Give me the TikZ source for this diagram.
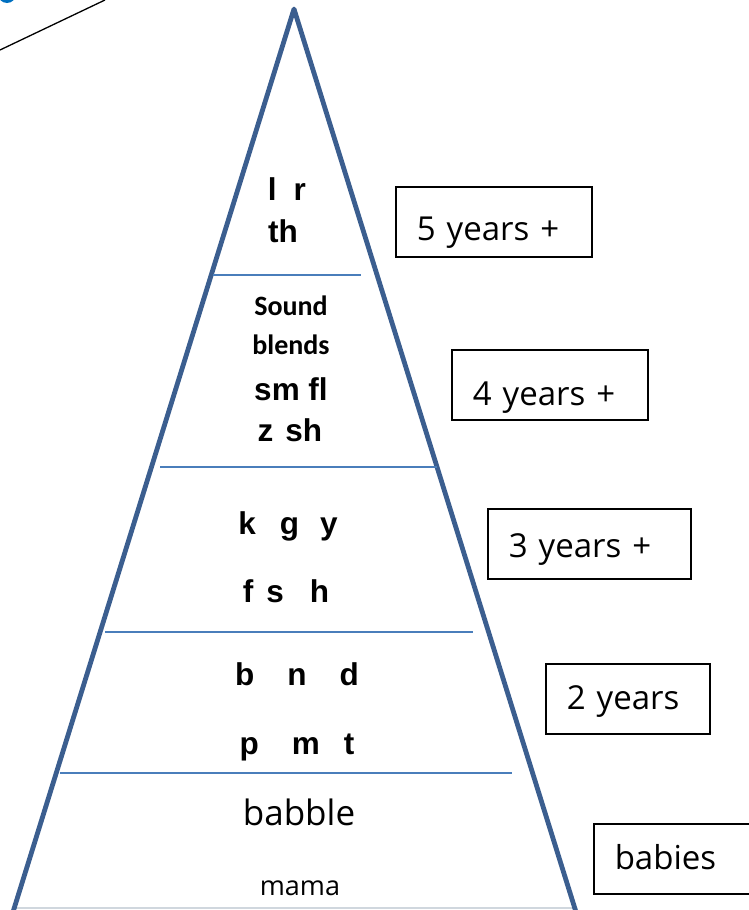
\documentclass[tikz,border=0pt]{standalone}
\usepackage{fontspec}
\usepackage{tikz}
\usetikzlibrary{positioning}
\newfontfamily\boldsans{Liberation Sans}
\newfontfamily\blendfont{Carlito}
\newfontfamily\roundfont{Open Sans}
\definecolor{pyrblue}{HTML}{3B5E8F}
\definecolor{lineblue}{HTML}{4A7EBB}
\definecolor{dotblue}{HTML}{0070C0}
\definecolor{basegray}{HTML}{D0D7DE}

\begin{document}
\begin{tikzpicture}[x=1pt, y=-1pt,
  pyr/.style={draw=pyrblue, line width=4.8pt, line join=round},
  divider/.style={draw=lineblue, line width=1.6pt},
  sound/.style={anchor=base, inner sep=0pt, font=\fontsize{31.5}{36}\selectfont\boldsans\bfseries},
  blend/.style={anchor=base, inner sep=0pt, font=\fontsize{28}{34}\selectfont\blendfont\bfseries},
  comic/.style={anchor=base, inner sep=0pt, font=\fontsize{#1}{#1}\selectfont\roundfont},
  yearbox/.style={draw, line width=1.5pt, anchor=north west, inner ysep=0pt, inner xsep=21pt,
    align=left, font=\fontsize{33}{40}\selectfont\roundfont}
]
  \useasboundingbox (0,0) rectangle (749,910);

  \coordinate (cutA) at (0,50);
  \coordinate (cutB) at (105,0);
  \draw[line width=1.3pt] (cutA) -- (cutB);
  \fill[dotblue] (7,-6) circle (9);

  \coordinate (apex) at (294,9);
  \coordinate (bl) at (13,912);
  \coordinate (br) at (576,912);
  \coordinate (b0l) at (15,908);
  \coordinate (b0r) at (573,908);
  \draw[draw=basegray, line width=1.5pt] (b0l) -- (b0r);
  \draw[pyr] (bl) -- (apex) -- (br);

  \coordinate (d1l) at (213,275);
  \coordinate (d1r) at (361,275);
  \coordinate (d2l) at (160,467);
  \coordinate (d2r) at (437,467);
  \coordinate (d3l) at (105,632);
  \coordinate (d3r) at (473,632);
  \coordinate (d4l) at (60,773);
  \coordinate (d4r) at (512,773);
  \draw[divider] (d1l) -- (d1r);
  \draw[divider] (d2l) -- (d2r);
  \draw[divider] (d3l) -- (d3r);
  \draw[divider] (d4l) -- (d4r);

  \node[sound] (lr)   at (287,200) {l\hspace{17pt}r};
  \node[sound] (th)   at (283,242) {th};
  \node[blend] (snd)  at (291,315) {Sound};
  \node[blend] (bln)  at (291,354) {blends};
  \node[sound] (smfl) at (291,400) {sm fl};
  \node[sound] (zsh)  at (290,441) {z\hspace{12pt}sh};
  \node[sound] (kgy)  at (288,534) {k\hspace{24pt}g\hspace{21pt}y};
  \node[sound] (fsh)  at (286,602) {f\hspace{13pt}s\hspace{26pt}h};
  \node[sound] (bnd)  at (297,685) {b\hspace{33pt}n\hspace{33pt}d};
  \node[sound] (pmt)  at (297,754) {p\hspace{33pt}m\hspace{24pt}t};
  \node[comic=35] (bab) at (299,825) {babble};
  \node[comic=27] (mam) at (300,895) {mama};

  \node[yearbox, text width=154pt, text height=54pt, text depth=16pt] (five)  at (395,186) {5 years +};
  \node[yearbox, text width=154pt, text height=56pt, text depth=14pt] (four)  at (451,349) {4 years +};
  \node[yearbox, text width=161pt, text height=48.5pt, text depth=21.5pt] (three) at (487,508) {3 years +};
  \node[yearbox, text width=122pt, text height=45.5pt, text depth=24.5pt] (two)   at (545,663) {2 years};
  \node[yearbox, text width=118pt, text height=45.5pt, text depth=24.5pt] (baby)  at (593,823) {babies};
\end{tikzpicture}
\end{document}
